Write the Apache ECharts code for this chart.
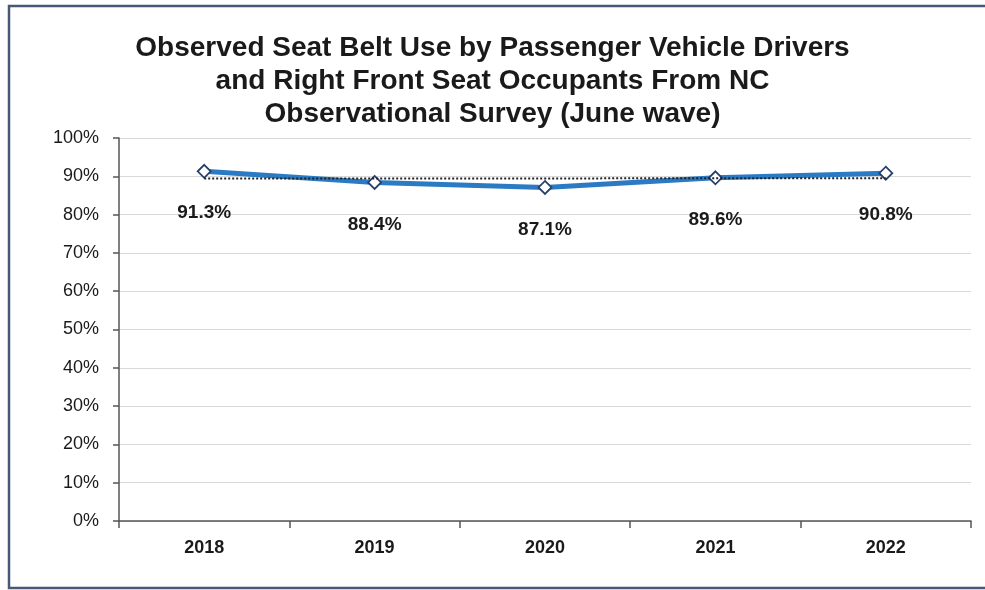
<!DOCTYPE html>
<html>
<head>
<meta charset="utf-8">
<script src="https://cdn.jsdelivr.net/npm/echarts@6/dist/echarts.min.js"></script>
<style>
html,body{margin:0;padding:0;background:#fff;}
#chart{width:985px;height:590px;}
</style>
</head>
<body>
<div id="chart"></div>
<script>
// Survey years and observed belt-use rates (%)
const years = ['2018', '2019', '2020', '2021', '2022'];
const beltUse = [91.3, 88.4, 87.1, 89.6, 90.8];
// Linear trend endpoints (first and last year)
const trendEnds = [89.4, 89.5];
const yTicks = [0, 10, 20, 30, 40, 50, 60, 70, 80, 90, 100];

const titleText = 'Observed Seat Belt Use by Passenger Vehicle Drivers\nand Right Front Seat Occupants From NC\nObservational Survey (June wave)';

const trendData = years.map((y, i) =>
  i === 0 ? trendEnds[0] : (i === years.length - 1 ? trendEnds[1] : null));

const chart = echarts.init(document.getElementById('chart'), null, {renderer: 'canvas'});
chart.setOption({
  animation: false,
  backgroundColor: '#ffffff',
  graphic: [{
    type: 'rect',
    shape: {x: 9, y: 6, width: 990, height: 582},
    style: {fill: 'none', stroke: '#4a5877', lineWidth: 2.5},
    silent: true
  }],
  title: {
    text: titleText,
    left: 'center',
    top: 27,
    textStyle: {
      fontFamily: 'Liberation Sans, Arial, sans-serif',
      fontWeight: 'bold',
      fontSize: 28,
      lineHeight: 33,
      color: '#1a1a1a'
    }
  },
  grid: {left: 119, right: 14, top: 138, bottom: 69, containLabel: false},
  xAxis: {
    type: 'category',
    data: years,
    boundaryGap: true,
    axisLine: {lineStyle: {color: '#555', width: 1.5}},
    axisTick: {show: true, alignWithLabel: false, length: 7, lineStyle: {color: '#555', width: 1.5}},
    axisLabel: {
      margin: 18,
      fontFamily: 'Liberation Sans, Arial, sans-serif',
      fontWeight: 'bold',
      fontSize: 18,
      color: '#1a1a1a'
    }
  },
  yAxis: {
    type: 'value',
    min: yTicks[0],
    max: yTicks[yTicks.length - 1],
    interval: 10,
    axisLine: {show: true, lineStyle: {color: '#555', width: 1.5}},
    axisTick: {show: true, length: 6, lineStyle: {color: '#555', width: 1.5}},
    splitLine: {lineStyle: {color: '#d9d9d9', width: 1}},
    axisLabel: {
      margin: 20,
      formatter: v => v + '%',
      fontFamily: 'Liberation Sans, Arial, sans-serif',
      fontSize: 18,
      color: '#1a1a1a'
    }
  },
  series: [
    {
      name: 'Trend',
      type: 'line',
      data: trendData,
      connectNulls: true,
      symbol: 'none',
      lineStyle: {color: '#222', width: 2, type: [2, 2]},
      z: 3
    },
    {
      name: 'Belt use',
      type: 'line',
      data: beltUse,
      symbol: 'diamond',
      symbolSize: 13,
      itemStyle: {color: '#ffffff', borderColor: '#27406b', borderWidth: 1.8},
      lineStyle: {color: '#2b7bc4', width: 5},
      label: {
        show: true,
        position: 'bottom',
        distance: 25,
        formatter: p => p.value.toFixed(1) + '%',
        fontFamily: 'Liberation Sans, Arial, sans-serif',
        fontWeight: 'bold',
        fontSize: 19,
        color: '#1a1a1a'
      },
      z: 2
    }
  ]
});
</script>
</body>
</html>
